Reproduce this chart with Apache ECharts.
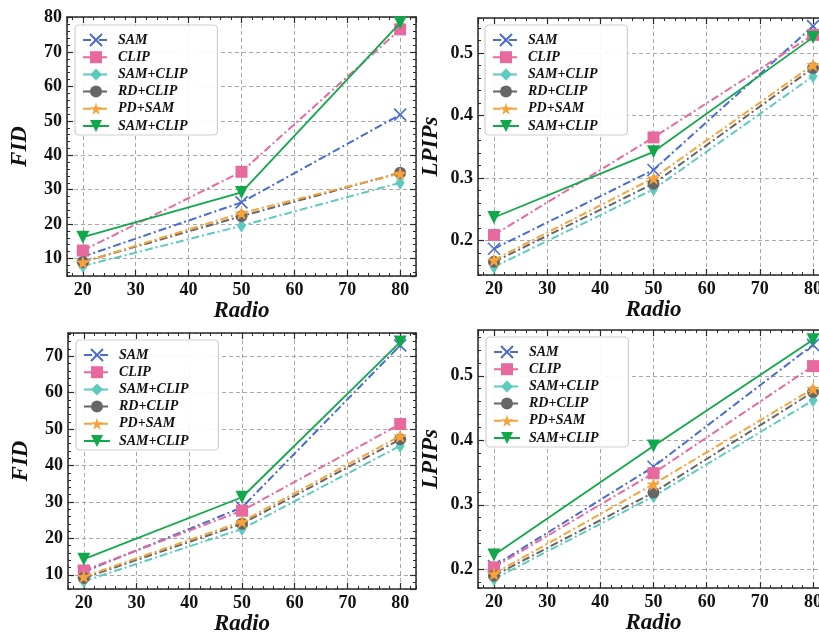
<!DOCTYPE html>
<html>
<head>
<meta charset="utf-8">
<script src="https://cdn.jsdelivr.net/npm/echarts@6/dist/echarts.min.js"></script>
<style>
html,body{margin:0;padding:0;background:#fff;overflow:hidden;}
#c{width:819px;height:635px;}
</style>
</head>
<body>
<div id="c"></div>
<script>
// ---- data ----
const radio = [20, 50, 80];
const seriesNames = ['SAM', 'CLIP', 'SAM+CLIP', 'RD+CLIP', 'PD+SAM', 'SAM+CLIP '];
const xTitle = 'Radio';
const yTitles = ['FID', 'LPIPs', 'FID', 'LPIPs'];

// top-left FID
const fidA_SAM = [10.5, 26.3, 51.8];
const fidA_CLIP = [12.3, 35.2, 76.6];
const fidA_SAMCLIP = [7.8, 19.5, 32.0];
const fidA_RDCLIP = [9.0, 22.3, 34.9];
const fidA_PDSAM = [8.9, 23.2, 34.7];
const fidA_SAMCLIP2 = [16.2, 29.2, 78.5];

// top-right LPIPs
const lpA_SAM = [0.187, 0.313, 0.543];
const lpA_CLIP = [0.209, 0.365, 0.529];
const lpA_SAMCLIP = [0.158, 0.282, 0.463];
const lpA_RDCLIP = [0.166, 0.291, 0.476];
const lpA_PDSAM = [0.169, 0.300, 0.481];
const lpA_SAMCLIP2 = [0.237, 0.342, 0.525];

// bottom-left FID
const fidB_SAM = [10.8, 28.5, 73.0];
const fidB_CLIP = [11.2, 27.6, 51.4];
const fidB_SAMCLIP = [8.2, 22.6, 45.4];
const fidB_RDCLIP = [9.1, 24.0, 47.2];
const fidB_PDSAM = [9.5, 24.6, 48.1];
const fidB_SAMCLIP2 = [14.3, 31.3, 73.9];

// bottom-right LPIPs
const lpB_SAM = [0.205, 0.359, 0.548];
const lpB_CLIP = [0.203, 0.349, 0.515];
const lpB_SAMCLIP = [0.185, 0.313, 0.462];
const lpB_RDCLIP = [0.190, 0.319, 0.475];
const lpB_PDSAM = [0.193, 0.332, 0.480];
const lpB_SAMCLIP2 = [0.222, 0.391, 0.556];

const panelData = [
  [fidA_SAM, fidA_CLIP, fidA_SAMCLIP, fidA_RDCLIP, fidA_PDSAM, fidA_SAMCLIP2],
  [lpA_SAM, lpA_CLIP, lpA_SAMCLIP, lpA_RDCLIP, lpA_PDSAM, lpA_SAMCLIP2],
  [fidB_SAM, fidB_CLIP, fidB_SAMCLIP, fidB_RDCLIP, fidB_PDSAM, fidB_SAMCLIP2],
  [lpB_SAM, lpB_CLIP, lpB_SAMCLIP, lpB_RDCLIP, lpB_PDSAM, lpB_SAMCLIP2]
];

// ---- styling / layout ----
const FONT = '"Liberation Serif", "Times New Roman", serif';
const colors = ['#4a6ccf', '#e8699e', '#5ccabf', '#666666', '#f8a23a', '#10a84a'];
const DASHDOT = [8, 3, 2, 3];
const lineTypes = [DASHDOT, DASHDOT, DASHDOT, DASHDOT, DASHDOT, 'solid'];
const STAR = 'path://M50,0 L61.2,34.5 L97.6,34.5 L68.2,55.9 L79.4,90.5 L50,69.1 L20.6,90.5 L31.8,55.9 L2.4,34.5 L38.8,34.5 Z';
const XMARK = 'path://M0,0L10,10M0,10L10,0';
const symbols = [XMARK, 'rect', 'diamond', 'circle', STAR, 'triangle'];
const symbolSizes = [12, 12, [9, 14], 12, 14, 13];
const symbolRotates = [0, 0, 0, 0, 0, 180];

const panels = [
  {left: 67, top: 17, width: 349, height: 259, xmin: 17, xmax: 83, ymin: 4.9, ymax: 80.2, ymaj: 10, ymin_: 2, legL: 75, legT: 25},
  {left: 478, top: 18, width: 351, height: 257, xmin: 17, xmax: 83, ymin: 0.145, ymax: 0.556, ymaj: 0.1, ymin_: 0.02, legL: 485, legT: 25},
  {left: 68, top: 333, width: 348, height: 256, xmin: 17, xmax: 83, ymin: 6.1, ymax: 76.4, ymaj: 10, ymin_: 2, legL: 76, legT: 340},
  {left: 478, top: 330, width: 351, height: 258, xmin: 17, xmax: 83, ymin: 0.171, ymax: 0.571, ymaj: 0.1, ymin_: 0.02, legL: 486, legT: 337}
];

const SPINE = '#2a2a2a';
const grids = [], xAxes = [], yAxes = [], series = [], legends = [];

function majorAxis(gi, pos, min, max, step, withLabels, name, isY) {
  const a = {
    type: 'value', gridIndex: gi, position: pos, min: min, max: max,
    minInterval: step, maxInterval: step,
    axisLine: {show: true, onZero: false, lineStyle: {color: SPINE, width: 1.5}},
    axisTick: {show: true, inside: true, length: 6, lineStyle: {color: SPINE, width: 1.2}},
    axisLabel: {show: withLabels, showMinLabel: false, showMaxLabel: false, margin: 5,
      fontFamily: FONT, fontWeight: 'bold', fontSize: 18, color: '#111'},
    splitLine: {show: withLabels, lineStyle: {color: '#a8a8a8', width: 1, type: [4, 3]}},
    minorTick: {show: false}
  };
  if (name) {
    a.name = name;
    a.nameLocation = 'middle';
    a.nameGap = isY ? 35 : 19;
    a.nameTextStyle = {fontFamily: FONT, fontWeight: 'bold', fontStyle: 'italic', fontSize: 23, color: '#111'};
  }
  return a;
}
function minorAxis(gi, pos, min, max, step) {
  return {
    type: 'value', gridIndex: gi, position: pos, min: min, max: max,
    minInterval: step, maxInterval: step,
    axisLine: {show: false, onZero: false},
    axisTick: {show: true, inside: true, length: 3, lineStyle: {color: SPINE, width: 1}},
    axisLabel: {show: false},
    splitLine: {show: false}
  };
}

panels.forEach((p, gi) => {
  grids.push({left: p.left, top: p.top, width: p.width, height: p.height, outerBoundsMode: 'none', containLabel: false, show: false});
  xAxes.push(majorAxis(gi, 'bottom', p.xmin, p.xmax, 10, true, xTitle, false));
  xAxes.push(majorAxis(gi, 'top', p.xmin, p.xmax, 10, false, null, false));
  xAxes.push(minorAxis(gi, 'bottom', p.xmin, p.xmax, 2));
  xAxes.push(minorAxis(gi, 'top', p.xmin, p.xmax, 2));
  yAxes.push(majorAxis(gi, 'left', p.ymin, p.ymax, p.ymaj, true, yTitles[gi], true));
  yAxes.push(majorAxis(gi, 'right', p.ymin, p.ymax, p.ymaj, false, null, true));
  yAxes.push(minorAxis(gi, 'left', p.ymin, p.ymax, p.ymin_));
  yAxes.push(minorAxis(gi, 'right', p.ymin, p.ymax, p.ymin_));

  panelData[gi].forEach((vals, si) => {
    const isX = si === 0;
    series.push({
      type: 'line',
      name: seriesNames[si],
      xAxisIndex: gi * 4,
      yAxisIndex: gi * 4,
      data: radio.map((x, i) => [x, vals[i]]),
      symbol: symbols[si],
      symbolSize: symbolSizes[si],
      symbolRotate: symbolRotates[si],
      showAllSymbol: true,
      clip: false,
      z: 10 + si,
      lineStyle: {color: colors[si], width: si === 5 ? 1.8 : 2, type: lineTypes[si]},
      itemStyle: {color: isX ? 'rgba(0,0,0,0)' : colors[si], borderColor: colors[si], borderWidth: isX ? 1.6 : 0},
      emphasis: {disabled: true}
    });
  });

  legends.push({
    orient: 'vertical',
    left: p.legL, top: p.legT,
    data: seriesNames,
    formatter: n => n.trim(),
    itemWidth: 26, itemHeight: 15, itemGap: 3.2,
    padding: [8, 30, 2, 7],
    backgroundColor: 'rgba(255,255,255,0.9)',
    borderColor: '#cfcfcf', borderWidth: 1.2, borderRadius: 4,
    iconRotate: 'inherit',
    selectedMode: false,
    textStyle: {fontFamily: FONT, fontWeight: 'bold', fontStyle: 'italic', fontSize: 14, color: '#111', padding: [0, 0, 0, 4]}
  });
});

const chart = echarts.init(document.getElementById('c'), null, {renderer: 'canvas', width: 819, height: 635});
chart.setOption({
  animation: false,
  backgroundColor: '#fff',
  grid: grids,
  xAxis: xAxes,
  yAxis: yAxes,
  legend: legends,
  series: series
});
</script>
</body>
</html>
